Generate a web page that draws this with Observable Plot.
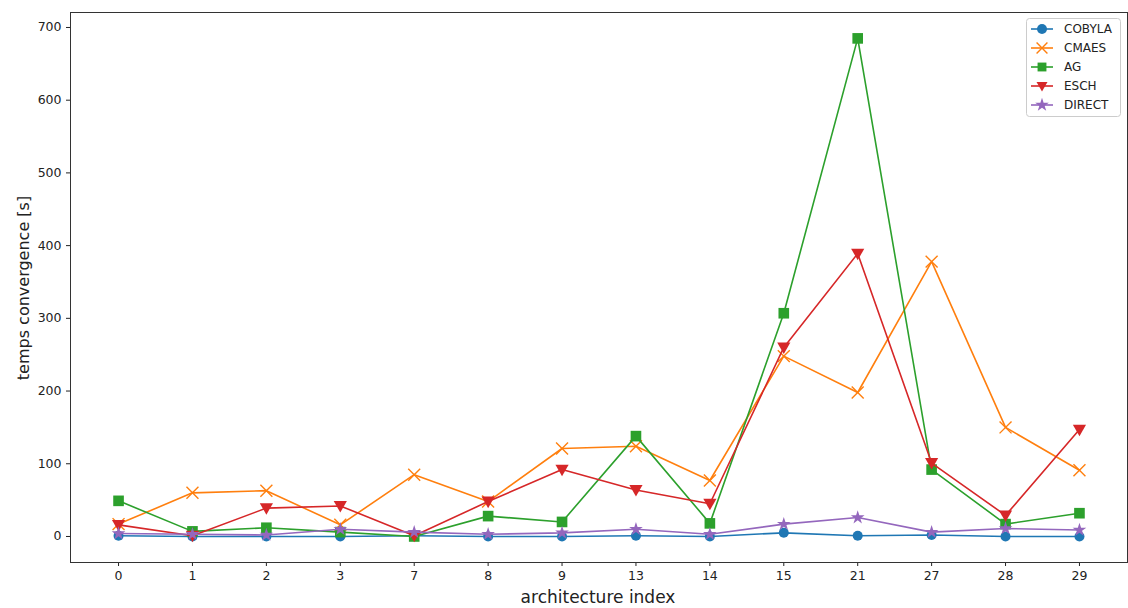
<!DOCTYPE html>
<html>
<head>
<meta charset="utf-8">
<script src="https://cdn.jsdelivr.net/npm/d3@7"></script>
<script src="https://cdn.jsdelivr.net/npm/@observablehq/plot@0.6"></script>
<style>
  html, body { margin: 0; padding: 0; background: #fff; }
  svg { font-family: "DejaVu Sans", sans-serif; }
</style>
</head>
<body>
<div id="chart"></div>
<script>
const categories = ["0","1","2","3","7","8","9","13","14","15","21","27","28","29"];
const seriesNames = ["COBYLA","CMAES","AG","ESCH","DIRECT"];
const COBYLA = [1, 0, 0, 0, 1, 0, 0, 1, 0, 5, 1, 2, 0, 0];
const CMAES  = [17, 60, 63, 16, 85, 48, 121, 124, 77, 248, 198, 378, 150, 91];
const AG     = [49, 7, 12, 6, 0, 28, 20, 138, 18, 307, 685, 92, 17, 32];
const ESCH   = [16, 1, 39, 42, 1, 48, 92, 64, 45, 260, 389, 101, 29, 147];
const DIRECT = [4, 3, 2, 10, 6, 3, 5, 10, 3, 17, 26, 6, 11, 9];
const colors = ["#1f77b4","#ff7f0e","#2ca02c","#d62728","#9467bd"];

const triangleDown = {
  draw(ctx, size) {
    const s = Math.sqrt(size) * 0.62;
    ctx.moveTo(-s, -s * 0.75);
    ctx.lineTo(s, -s * 0.75);
    ctx.lineTo(0, s * 1.0);
    ctx.closePath();
  }
};
const symbols = ["circle", "times", "square", triangleDown, "star"];
const radii = [5, 5.5, 6, 6, 4.3];
const values = [COBYLA, CMAES, AG, ESCH, DIRECT];

const data = [];
seriesNames.forEach((s, si) => {
  values[si].forEach((v, i) => data.push({series: s, si, x: i, y: v}));
});

const marks = [
  Plot.frame({stroke: "#333", strokeWidth: 1})
];
seriesNames.forEach((s, si) => {
  const d = data.filter(e => e.series === s);
  marks.push(Plot.line(d, {x: "x", y: "y", stroke: colors[si], strokeWidth: 1.6}));
  const hollow = s === "CMAES";
  marks.push(Plot.dot(d, {
    x: "x", y: "y", symbol: () => symbols[si], r: radii[si],
    fill: hollow ? "none" : colors[si],
    stroke: colors[si], strokeWidth: hollow ? 1.4 : 0
  }));
});

const plot = Plot.plot({
  width: 1128,
  height: 608,
  marginLeft: 70,
  marginRight: 1,
  marginTop: 12,
  marginBottom: 46,
  style: {fontFamily: "DejaVu Sans, sans-serif", fontSize: "12.5px", color: "#222"},
  symbol: {type: "identity"},
  x: {
    type: "linear",
    domain: [-0.65, 13.65],
    ticks: d3.range(categories.length),
    tickFormat: i => categories[i],
    tickSize: 4,
    label: null
  },
  y: {
    domain: [-35.8, 720.6],
    ticks: [0,100,200,300,400,500,600,700],
    tickSize: 4,
    label: null
  },
  marks
});
document.getElementById("chart").appendChild(plot);

const svg = d3.select(plot);
// Axis labels
svg.append("text")
  .attr("x", 598).attr("y", 603)
  .attr("text-anchor", "middle")
  .attr("font-size", 17).attr("fill", "#222")
  .text("architecture index");
svg.append("text")
  .attr("transform", "translate(29,288) rotate(-90)")
  .attr("text-anchor", "middle")
  .attr("font-size", 16).attr("fill", "#222")
  .text("temps convergence [s]");

// Legend
const lg = svg.append("g").attr("text-anchor", "start");
lg.append("rect")
  .attr("x", 1026.5).attr("y", 18.5).attr("width", 94).attr("height", 98)
  .attr("rx", 3).attr("fill", "white").attr("fill-opacity", 0.85)
  .attr("stroke", "#ccc");
seriesNames.forEach((s, si) => {
  const yy = 29 + si * 19;
  lg.append("line").attr("x1", 1031).attr("x2", 1053).attr("y1", yy).attr("y2", yy)
    .attr("stroke", colors[si]).attr("stroke-width", 1.6);
  const sym = typeof symbols[si] === "string"
    ? {circle: d3.symbolCircle, times: d3.symbolTimes, square: d3.symbolSquare, star: d3.symbolStar}[symbols[si]]
    : symbols[si];
  const hollow = s === "CMAES";
  const r = Math.min(radii[si], 5);
  lg.append("path")
    .attr("d", d3.symbol(sym, Math.PI * r * r)())
    .attr("transform", `translate(1042,${yy})`)
    .attr("fill", hollow ? "none" : colors[si])
    .attr("stroke", colors[si]).attr("stroke-width", hollow ? 1.4 : 0);
  lg.append("text").attr("x", 1064).attr("y", yy).attr("dy", "0.35em")
    .attr("text-anchor", "start")
    .attr("font-size", 12).attr("fill", "#222").text(s);
});
</script>
</body>
</html>
